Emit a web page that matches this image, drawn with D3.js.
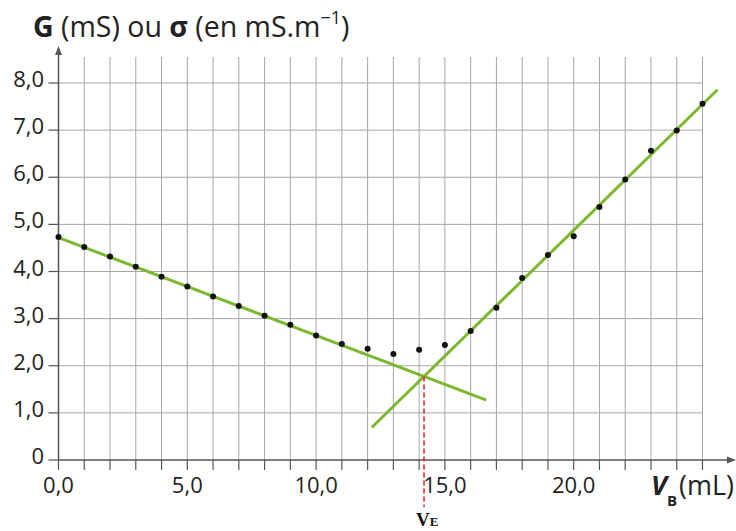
<!DOCTYPE html>
<html><head><meta charset="utf-8">
<script src="https://cdn.jsdelivr.net/npm/d3@7"></script>
<style>html,body{margin:0;padding:0;background:#fff;}svg{display:block;}</style>
</head><body>
<svg id="c" width="736" height="531"></svg>
<script>
// ---- data ----
const volumes = [0,1,2,3,4,5,6,7,8,9,10,11,12,13,14,15,16,17,18,19,20,21,22,23,24,25];
const conductance = [4.73,4.52,4.32,4.10,3.89,3.68,3.47,3.27,3.06,2.87,2.64,2.46,2.36,2.25,2.34,2.44,2.74,3.23,3.86,4.35,4.75,5.37,5.95,6.56,6.99,7.56];
const fitBefore = [[0,4.72],[16.56,1.28]];
const fitAfter = [[12.2,0.71],[25.55,7.84]];
const xTickLabels = [[0,"0,0"],[5,"5,0"],[10,"10,0"],[15,"15,0"],[20,"20,0"]];
const yTickLabels = [[0,"0"],[1,"1,0"],[2,"2,0"],[3,"3,0"],[4,"4,0"],[5,"5,0"],[6,"6,0"],[7,"7,0"],[8,"8,0"]];

const svg = d3.select("#c");
const x = d3.scaleLinear().domain([0,25]).range([58.5,702.5]);
const y = d3.scaleLinear().domain([0,8]).range([460,83]);
const font = "'Open Sans', 'Noto Sans', sans-serif";
const gridC = "#a6a6a6", axisC = "#555", green = "#7cb82f", txt = "#222";

// grid
const g = svg.append("g");
g.selectAll("line.v").data(d3.range(1,26)).join("line")
  .attr("x1",d=>x(d)).attr("x2",d=>x(d)).attr("y1",y(0)).attr("y2",57)
  .attr("stroke",gridC).attr("stroke-width",1);
g.selectAll("line.h").data(d3.range(1,9)).join("line")
  .attr("x1",x(0)).attr("x2",x(25)).attr("y1",d=>y(d)).attr("y2",d=>y(d))
  .attr("stroke",gridC).attr("stroke-width",1);

// ticks
g.selectAll("line.xt").data(d3.range(0,26)).join("line")
  .attr("x1",d=>x(d)).attr("x2",d=>x(d)).attr("y1",y(0)).attr("y2",y(0)+10)
  .attr("stroke",axisC).attr("stroke-width",1.2);
g.selectAll("line.yt").data(d3.range(0,9)).join("line")
  .attr("x1",x(0)-10).attr("x2",x(0)).attr("y1",d=>y(d)).attr("y2",d=>y(d))
  .attr("stroke",axisC).attr("stroke-width",1.2);

// axes
svg.append("line").attr("x1",x(0)).attr("x2",730).attr("y1",y(0)).attr("y2",y(0))
  .attr("stroke",axisC).attr("stroke-width",1.5);
svg.append("path").attr("d",`M736,${y(0)} L727,${y(0)-3.5} L727,${y(0)+3.5} Z`).attr("fill",axisC);
svg.append("line").attr("x1",x(0)).attr("x2",x(0)).attr("y1",y(0)).attr("y2",53)
  .attr("stroke",axisC).attr("stroke-width",1.5);
svg.append("path").attr("d",`M${x(0)},46 L${x(0)-3.5},55 L${x(0)+3.5},55 Z`).attr("fill",axisC);

// tick labels
svg.selectAll("text.xl").data(xTickLabels).join("text")
  .attr("x",d=>x(d[0])).attr("y",493).attr("text-anchor","middle")
  .attr("font-family",font).attr("font-size",22).attr("fill",txt).text(d=>d[1]);
svg.selectAll("text.yl").data(yTickLabels).join("text")
  .attr("x",44).attr("y",d=>y(d[0])+4).attr("text-anchor","end")
  .attr("font-family",font).attr("font-size",22).attr("fill",txt).text(d=>d[1]);

// fit lines
const line = d3.line().x(d=>x(d[0])).y(d=>y(d[1]));
[fitBefore, fitAfter].forEach(f=>{
  svg.append("path").attr("d",line(f)).attr("stroke",green).attr("stroke-width",3)
    .attr("fill","none").attr("stroke-linecap","round");
});

// equivalence
const s1=(fitBefore[1][1]-fitBefore[0][1])/(fitBefore[1][0]-fitBefore[0][0]);
const s2=(fitAfter[1][1]-fitAfter[0][1])/(fitAfter[1][0]-fitAfter[0][0]);
const b1=fitBefore[0][1]-s1*fitBefore[0][0], b2=fitAfter[0][1]-s2*fitAfter[0][0];
const VE=(b2-b1)/(s1-s2), GE=s1*VE+b1;
svg.append("line").attr("x1",x(VE)).attr("x2",x(VE)).attr("y1",y(GE)).attr("y2",507)
  .attr("stroke","#e8212a").attr("stroke-width",1.6).attr("stroke-dasharray","5,3");

// points
svg.selectAll("circle").data(volumes.map((v,i)=>[v,conductance[i]])).join("circle")
  .attr("cx",d=>x(d[0])).attr("cy",d=>y(d[1])).attr("r",3).attr("fill","#111");

// titles
const t = svg.append("text").attr("x",33).attr("y",37).attr("font-family",font)
  .attr("font-size",28.5).attr("fill",txt);
t.append("tspan").attr("font-weight","bold").text("G");
t.append("tspan").text(" (mS) ou ");
t.append("tspan").attr("font-weight","bold").text("σ");
t.append("tspan").text(" (en mS.m");
t.append("tspan").attr("font-size",18).attr("dy",-13).text("−1");
t.append("tspan").attr("dy",13).text(")");

const xt = svg.append("text").attr("x",651).attr("y",495).attr("font-family",font)
  .attr("font-size",27).attr("fill",txt);
xt.append("tspan").attr("font-weight","bold").attr("font-style","italic").text("V");
xt.append("tspan").attr("font-size",15).attr("dy",11).attr("font-weight","bold").text("B");
xt.append("tspan").attr("dy",-11).attr("dx",2).text("(mL)");

const ve = svg.append("text").attr("x",x(VE)-8).attr("y",526).attr("font-family","'Liberation Serif', 'DejaVu Serif', serif")
  .attr("font-weight","bold").attr("fill","#111");
ve.append("tspan").attr("font-size",19).text("V");
ve.append("tspan").attr("font-size",13).text("E");
</script>
</body></html>
